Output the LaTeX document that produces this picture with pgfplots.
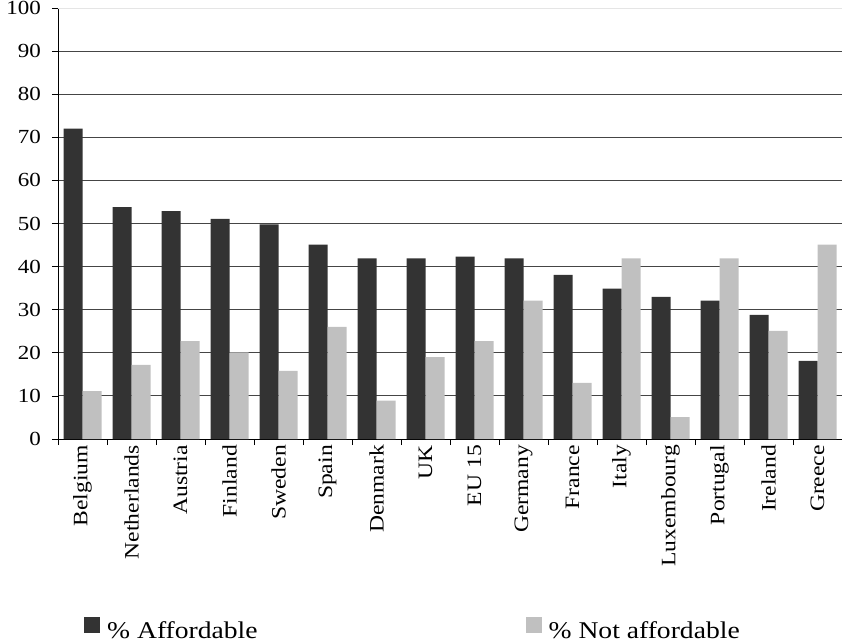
\documentclass[border=0pt]{standalone}
\usepackage{fontspec}
\setmainfont{Liberation Serif}[FakeStretch=1.15]
\usepackage{pgfplots}
\pgfplotsset{compat=1.18}
\usepackage{pgfplotstable}

\pgfplotstableread{
idx aff notaff
0 72.0 11.1
1 53.8 17.2
2 52.9 22.7
3 51.1 20.1
4 49.8 15.8
5 45.1 26.0
6 41.9 8.9
7 41.9 19.0
8 42.3 22.7
9 41.9 32.1
10 38.1 13.0
11 34.9 41.9
12 33.0 5.1
13 32.1 41.9
14 28.8 25.1
15 18.1 45.1
}\data

\definecolor{darkbar}{HTML}{333333}
\definecolor{lightbar}{HTML}{C0C0C0}
\definecolor{gridc}{HTML}{454545}

\begin{document}
\begin{tikzpicture}
\useasboundingbox (-58bp,-205bp) rectangle (784bp,439bp);
\begin{axis}[
  at={(0,0)}, anchor=south west,
  scale only axis, width=784bp, height=431bp,
  xmin=-0.5, xmax=15.5, ymin=0, ymax=100,
  ybar=0pt, bar width=19bp,
  axis x line*=bottom, axis y line*=left,
  axis line style={black, line width=0.8bp, -},
  xtick={0,...,15},
  xticklabels={Belgium,Netherlands,Austria,Finland,Sweden,Spain,Denmark,UK,EU 15,Germany,France,Italy,Luxembourg,Portugal,Ireland,Greece},
  minor xtick={-0.5,0.5,...,15.5},
  major x tick style={draw=none},
  ytick={0,10,...,90},
  extra y ticks={100},
  extra y tick style={grid style={color=gray!20, line width=0.8bp}},
  ymajorgrids,
  grid style={gridc, line width=0.9bp},
  tick align=outside, major tick length=6bp, minor tick length=6bp,
  tick style={black, line width=0.8bp},
  tick label style={font=\fontsize{20bp}{24bp}\selectfont},
  /pgf/number format/assume math mode=true,
  yticklabel style={inner sep=0pt, xshift=-11bp},
  xticklabel style={rotate=90, anchor=east, inner sep=0pt, font=\fontsize{20.5bp}{24bp}\selectfont},
  legend columns=2,
  legend image code/.code={\fill[#1] (0bp,-2bp) rectangle (16bp,14bp);},
  legend style={draw=none, fill=none, inner sep=0pt,
    at={(axis description cs:0,0)}, anchor=south west, xshift=26bp, yshift=-201bp,
    font=\fontsize{24bp}{28bp}\selectfont,
    nodes={inner sep=0pt},
    /tikz/column 1/.style={column sep=7bp},
    /tikz/column 2/.style={column sep=268bp},
    /tikz/column 3/.style={column sep=7bp}},
]
\addplot[fill=darkbar, draw=none] table[x=idx, y=aff] {\data};
\addlegendentry{\% Affordable}
\addplot[fill=lightbar, draw=none] table[x=idx, y=notaff] {\data};
\addlegendentry{\% Not affordable}
\end{axis}
\end{tikzpicture}
\end{document}
